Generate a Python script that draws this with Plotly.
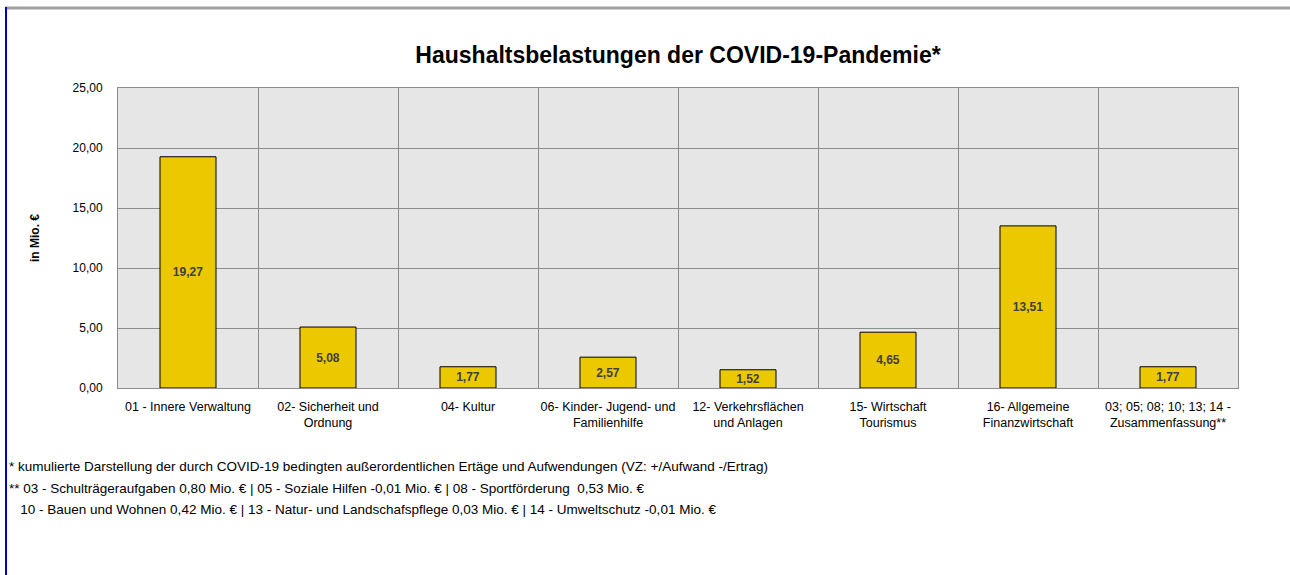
import plotly.graph_objects as go

categories = [
    "01 - Innere Verwaltung",
    "02- Sicherheit und<br>Ordnung",
    "04- Kultur",
    "06- Kinder- Jugend- und<br>Familienhilfe",
    "12- Verkehrsflächen<br>und Anlagen",
    "15- Wirtschaft<br>Tourismus",
    "16- Allgemeine<br>Finanzwirtschaft",
    "03; 05; 08; 10; 13; 14 -<br>Zusammenfassung**",
]
values = [19.27, 5.08, 1.77, 2.57, 1.52, 4.65, 13.51, 1.77]
y_ticks = [0, 5, 10, 15, 20, 25]
y_tick_labels = ["0,00", "5,00", "10,00", "15,00", "20,00", "25,00"]

title_text = "Haushaltsbelastungen der COVID-19-Pandemie*"
y_title = "in Mio. €"
footnotes = [
    "* kumulierte Darstellung der durch COVID-19 bedingten außerordentlichen Ertäge und Aufwendungen (VZ: +/Aufwand -/Ertrag)",
    "** 03 - Schulträgeraufgaben 0,80 Mio. € | 05 - Soziale Hilfen -0,01 Mio. € | 08 - Sportförderung  0,53 Mio. €",
    "   10 - Bauen und Wohnen 0,42 Mio. € | 13 - Natur- und Landschafspflege 0,03 Mio. € | 14 - Umweltschutz -0,01 Mio. €",
]

FONT = "Liberation Sans, Arial, sans-serif"

W, H = 1290, 575
L, R, T, B = 118, 52, 88, 187
pw = W - L - R
ph = H - T - B

def px_x(p):
    return (p - L) / pw

def px_y(p):
    return (H - B - p) / ph

labels = [f"{v:.2f}".replace(".", ",") for v in values]

fig = go.Figure()
fig.add_trace(go.Bar(
    x=categories,
    y=values,
    width=0.4,
    marker=dict(color="#EBC800", line=dict(color="#000000", width=1)),
    text=labels,
    textposition="inside",
    insidetextanchor="middle",
    textangle=0,
    textfont=dict(family=FONT, size=12, color="#404040", weight="bold"),
    constraintext="none",
    showlegend=False,
    hoverinfo="x+y",
))

fig.update_layout(
    width=W, height=H,
    margin=dict(l=L, r=R, t=T, b=B, autoexpand=False),
    paper_bgcolor="white",
    plot_bgcolor="#E6E6E6",
    font=dict(family=FONT, size=12, color="#000000"),
    title=dict(
        text="<b>" + title_text + "</b>",
        x=0.5, xref="paper", xanchor="center",
        y=1 - 55 / H, yref="container", yanchor="middle",
        font=dict(family=FONT, size=23, color="#000000"),
    ),
    xaxis=dict(
        type="category",
        tickson="boundaries",
        showgrid=True, gridcolor="#8C8C8C", gridwidth=1,
        showline=True, linecolor="#8C8C8C", linewidth=1, mirror=True,
        ticks="", tickangle=0, ticklabelstandoff=7,
        tickfont=dict(family=FONT, size=12.5, color="#000000"),
        range=[-0.5, 7.5],
        fixedrange=True,
    ),
    yaxis=dict(
        range=[0, 25],
        tickvals=y_ticks, ticktext=y_tick_labels,
        showgrid=True, gridcolor="#8C8C8C", gridwidth=1,
        showline=True, linecolor="#8C8C8C", linewidth=1, mirror=True,
        zeroline=False,
        ticks="", ticklabelstandoff=12,
        tickfont=dict(family=FONT, size=12, color="#000000"),
        title=dict(text="<b>" + y_title + "</b>", font=dict(family=FONT, size=12, color="#000000"), standoff=30),
        fixedrange=True,
    ),
    bargap=0.6,
)

# footnotes
for i, line in enumerate(footnotes):
    fig.add_annotation(
        text=line.replace("   ", "&nbsp;&nbsp;&nbsp;"),
        xref="paper", yref="paper",
        x=px_x(7), y=px_y(467 + 21 * i),
        xanchor="left", yanchor="middle",
        showarrow=False,
        font=dict(family=FONT, size=13.5, color="#000000"),
        align="left",
    )

# frame decorations (page border)
fig.add_shape(type="line", xref="paper", yref="paper",
              x0=px_x(5), x1=px_x(1290), y0=px_y(8), y1=px_y(8),
              line=dict(color="#A0A0A0", width=3), layer="above")
fig.add_shape(type="line", xref="paper", yref="paper",
              x0=px_x(6), x1=px_x(6), y0=px_y(7), y1=px_y(575),
              line=dict(color="#0000CC", width=2), layer="above")

fig.write_html(
    "out.html",
    config={"displayModeBar": False},
    post_script="document.body.style.margin='0';document.body.style.overflow='hidden';",
)
